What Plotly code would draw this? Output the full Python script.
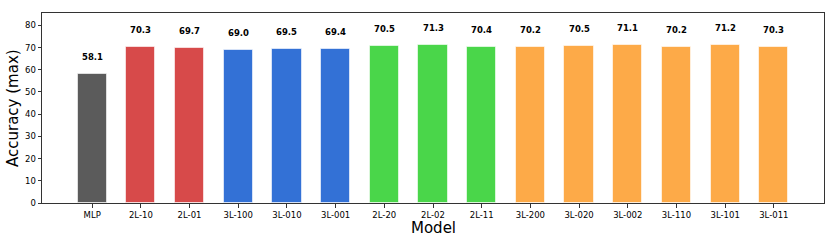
import plotly.graph_objects as go

models = ["MLP", "2L-10", "2L-01", "3L-100", "3L-010", "3L-001", "2L-20", "2L-02", "2L-11",
          "3L-200", "3L-020", "3L-002", "3L-110", "3L-101", "3L-011"]
accuracy = [58.1, 70.3, 69.7, 69.0, 69.5, 69.4, 70.5, 71.3, 70.4, 70.2, 70.5, 71.1, 70.2, 71.2, 70.3]
groups = ["base", "2L-1", "2L-1", "3L-1", "3L-1", "3L-1", "2L-2", "2L-2", "2L-2",
          "3L-2", "3L-2", "3L-2", "3L-2", "3L-2", "3L-2"]
group_colors = {"base": "#5b5b5b", "2L-1": "#d74a4a", "3L-1": "#3371d6",
                "2L-2": "#4ad64a", "3L-2": "#fdaa48"}

x = list(range(len(models)))
colors = [group_colors[g] for g in groups]

fig = go.Figure()
fig.add_trace(go.Bar(
    x=x, y=accuracy, width=0.6,
    marker=dict(color=colors, line=dict(color="rgba(255,255,255,0.6)", width=1)),
    showlegend=False,
))

for xi, v in zip(x, accuracy):
    fig.add_annotation(x=xi, y=v + 4.5, text=f"<b>{v:.1f}</b>", showarrow=False,
                       yanchor="bottom", font=dict(family="DejaVu Sans", size=8.5, color="black"))

fig.add_annotation(x=0.5, y=-0.0, xref="paper", yref="paper", yshift=-25,
                   text="Model", showarrow=False, yanchor="middle",
                   font=dict(family="DejaVu Sans", size=15, color="black"))
fig.add_annotation(x=0, y=0.5, xref="paper", yref="paper", xshift=-29,
                   text="Accuracy (max)", showarrow=False, textangle=-90, xanchor="center",
                   font=dict(family="DejaVu Sans", size=15, color="black"))

ymax = max(accuracy) * 1.2
fig.update_layout(
    width=830, height=249,
    margin=dict(l=42, r=6, t=13, b=46),
    plot_bgcolor="white", paper_bgcolor="white",
    bargap=0,
    font=dict(family="DejaVu Sans", color="black"),
    xaxis=dict(
        range=[-1.03, len(models) - 1 + 1.03],
        tickmode="array", tickvals=x, ticktext=models,
        tickfont=dict(size=8.5),
        ticks="outside", ticklen=3.5, tickcolor="#333",
        showline=True, linecolor="#333", linewidth=1, mirror=True,
        showgrid=False, zeroline=False, automargin=False,
    ),
    yaxis=dict(
        range=[0, ymax],
        tickmode="array", tickvals=list(range(0, 81, 10)),
        tickfont=dict(size=8.5),
        ticks="outside", ticklen=3.5, tickcolor="#333",
        showline=True, linecolor="#333", linewidth=1, mirror=True,
        showgrid=False, zeroline=False, automargin=False,
    ),
)

fig.write_html("out.html", config={"displayModeBar": False},
               post_script="document.body.style.margin='0px';document.body.style.overflow='hidden';")
